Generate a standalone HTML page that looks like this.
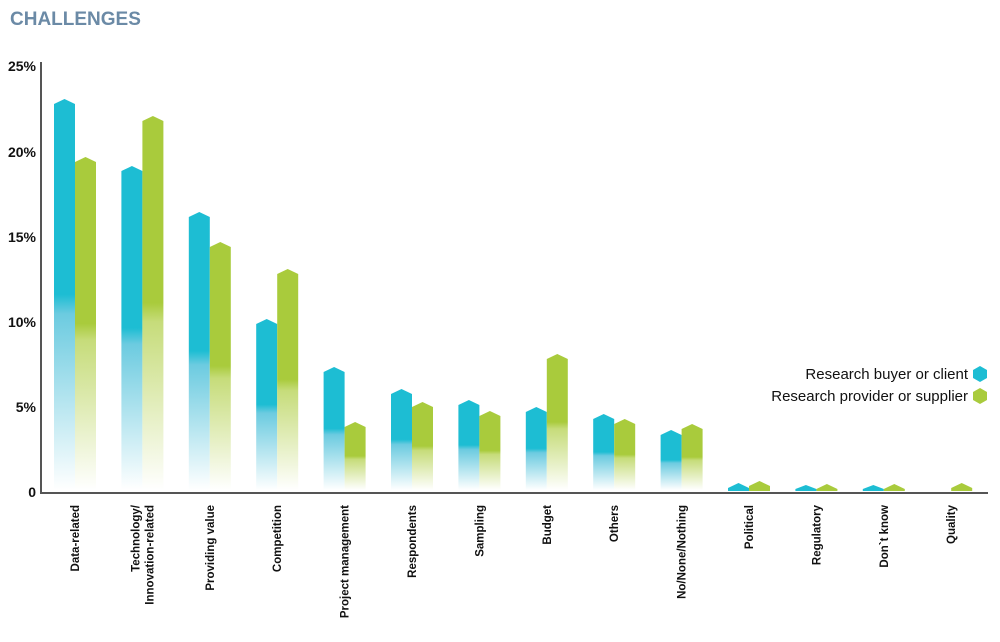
<!DOCTYPE html>
<html><head><meta charset="utf-8"><style>
html,body{margin:0;padding:0;background:#fff;}
svg{display:block;font-family:"Liberation Sans",sans-serif;}
</style></head><body>
<svg width="1000" height="642" viewBox="0 0 1000 642" xmlns="http://www.w3.org/2000/svg">
<defs>
<linearGradient id="gb" x1="0" y1="0" x2="0" y2="1"><stop offset="0" stop-color="#1dbdd3"/><stop offset="0.5" stop-color="#1dbdd3"/><stop offset="0.55" stop-color="#6ccbe0"/><stop offset="1" stop-color="#ffffff"/></linearGradient>
<linearGradient id="gg" x1="0" y1="0" x2="0" y2="1"><stop offset="0" stop-color="#a9cb3c"/><stop offset="0.5" stop-color="#a9cb3c"/><stop offset="0.55" stop-color="#c6dc7a"/><stop offset="1" stop-color="#ffffff"/></linearGradient>
</defs>
<text x="10" y="25" font-size="19" font-weight="bold" fill="#6b8aa6">CHALLENGES</text>
<g font-size="14" font-weight="bold" fill="#111" text-anchor="end">
<text x="36" y="71">25%</text><text x="36" y="157">20%</text><text x="36" y="242">15%</text>
<text x="36" y="327">10%</text><text x="36" y="412">5%</text><text x="36" y="497">0</text>
</g>
<g fill="url(#gb)">
<polygon points="54,104 64.5,99 75,104 75,490 54,490"/>
<polygon points="121.4,171 131.9,166 142.4,171 142.4,490 121.4,490"/>
<polygon points="188.8,217 199.3,212 209.8,217 209.8,490 188.8,490"/>
<polygon points="256.2,324 266.7,319 277.2,324 277.2,490 256.2,490"/>
<polygon points="323.6,372 334.1,367 344.6,372 344.6,490 323.6,490"/>
<polygon points="391,394 401.5,389 412,394 412,490 391,490"/>
<polygon points="458.4,405 468.9,400 479.4,405 479.4,490 458.4,490"/>
<polygon points="525.8,412 536.3,407 546.8,412 546.8,490 525.8,490"/>
<polygon points="593.2,419 603.7,414 614.2,419 614.2,490 593.2,490"/>
<polygon points="660.6,435 671.1,430 681.6,435 681.6,490 660.6,490"/>
</g>
<g fill="url(#gg)">
<polygon points="75,162 85.5,157 96,162 96,490 75,490"/>
<polygon points="142.4,121 152.9,116 163.4,121 163.4,490 142.4,490"/>
<polygon points="209.8,247 220.3,242 230.8,247 230.8,490 209.8,490"/>
<polygon points="277.2,274 287.7,269 298.2,274 298.2,490 277.2,490"/>
<polygon points="344.6,427 355.1,422 365.6,427 365.6,490 344.6,490"/>
<polygon points="412,407 422.5,402 433,407 433,490 412,490"/>
<polygon points="479.4,416 489.9,411 500.4,416 500.4,490 479.4,490"/>
<polygon points="546.8,359 557.3,354 567.8,359 567.8,490 546.8,490"/>
<polygon points="614.2,424 624.7,419 635.2,424 635.2,490 614.2,490"/>
<polygon points="681.6,429 692.1,424 702.6,429 702.6,490 681.6,490"/>
</g>
<g fill="#1dbdd3">
<polygon points="728,488 738.5,483 749,488 749,491 728,491"/>
<polygon points="795.4,489 805.9,485 816.4,489 816.4,491 795.4,491"/>
<polygon points="862.8,489 873.3,485 883.8,489 883.8,491 862.8,491"/>
</g>
<g fill="#a9cb3c">
<polygon points="749,486 759.5,481 770,486 770,491 749,491"/>
<polygon points="816.4,489 826.9,484 837.4,489 837.4,491 816.4,491"/>
<polygon points="883.8,489 894.3,484 904.8,489 904.8,491 883.8,491"/>
<polygon points="951.2,488 961.7,483 972.2,488 972.2,491 951.2,491"/>
</g>
<line x1="41" y1="62" x2="41" y2="493" stroke="#555" stroke-width="2"/>
<line x1="40" y1="493" x2="988" y2="493" stroke="#555" stroke-width="2"/>
<g font-size="11.5" font-weight="bold" fill="#111" text-anchor="end">
<text transform="translate(79,505) rotate(-90)">Data-related</text>
<text transform="translate(139.4,505) rotate(-90)">Technology/</text>
<text transform="translate(153.4,505) rotate(-90)">Innovation-related</text>
<text transform="translate(213.8,505) rotate(-90)">Providing value</text>
<text transform="translate(281.2,505) rotate(-90)">Competition</text>
<text transform="translate(348.6,505) rotate(-90)">Project management</text>
<text transform="translate(416,505) rotate(-90)">Respondents</text>
<text transform="translate(483.4,505) rotate(-90)">Sampling</text>
<text transform="translate(550.8,505) rotate(-90)">Budget</text>
<text transform="translate(618.2,505) rotate(-90)">Others</text>
<text transform="translate(685.6,505) rotate(-90)">No/None/Nothing</text>
<text transform="translate(753,505) rotate(-90)">Political</text>
<text transform="translate(820.4,505) rotate(-90)">Regulatory</text>
<text transform="translate(887.8,505) rotate(-90)">Don`t know</text>
<text transform="translate(955.2,505) rotate(-90)">Quality</text>
</g>
<g font-size="15" fill="#111" text-anchor="end">
<text x="968" y="379">Research buyer or client</text>
<text x="968" y="401">Research provider or supplier</text>
</g>
<polygon points="980,366 987,370 987,378 980,382 973,378 973,370" fill="#1dbdd3"/>
<polygon points="980,388 987,392 987,400 980,404 973,400 973,392" fill="#a9cb3c"/>
</svg>
</body></html>
